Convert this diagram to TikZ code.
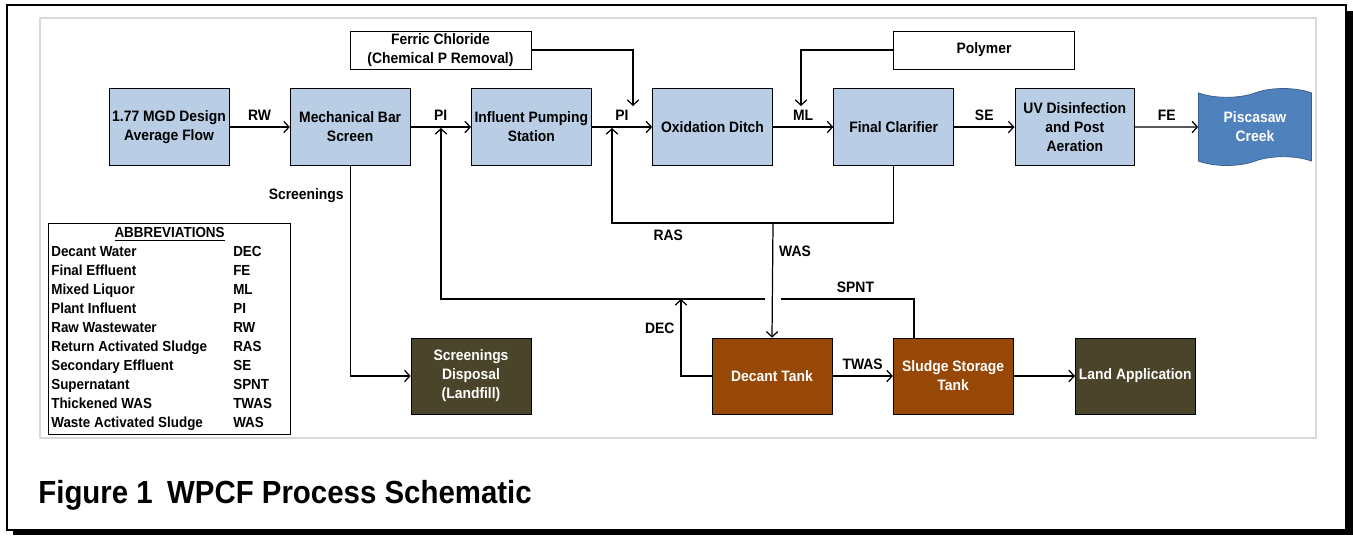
\documentclass[tikz,border=0pt]{standalone}
\usepackage{fontspec}
\setmainfont{Liberation Sans}[FakeStretch=0.92]
\usetikzlibrary{positioning,arrows.meta,shapes.symbols}
\definecolor{unitblue}{HTML}{B9CDE5}
\definecolor{creekblue}{HTML}{4F81BD}
\definecolor{creekedge}{HTML}{385D8A}
\definecolor{sludgebrown}{HTML}{974706}
\definecolor{dumpolive}{HTML}{4A452A}
\definecolor{framegray}{HTML}{D9D9D9}

\begin{document}
\begin{tikzpicture}[x=0.02cm,y=-0.02cm,
		font=\bfseries\fontsize{8.6}{10.8}\selectfont,
		>={Straight Barb[length=3pt,width=6.5pt]},
		unit/.style={draw,fill=unitblue,align=center,minimum width=2.4cm,minimum height=1.54cm,inner sep=1pt},
		chem/.style={draw,fill=white,align=center,minimum width=3.62cm,minimum height=0.76cm,inner sep=1pt},
		solids/.style={draw,fill=sludgebrown,text=white,align=center,minimum width=2.4cm,minimum height=1.52cm,inner sep=1pt},
		dump/.style={solids,fill=dumpolive},
		flow/.style={->,line width=0.7pt},
		pipe/.style={line width=0.7pt}
		]
		\useasboundingbox (0,0) rectangle (1353,535);
		% outer frame with shadow
		\fill (13,11) rectangle (1353,535);
		\draw[fill=white,line width=1.2pt] (7,5) rectangle (1346,530);
		\draw[framegray,line width=1.2pt] (40,18) rectangle (1316,438);
		
		% main process train
		\node[unit] (raw) at (169,127) {1.77 MGD Design\\Average Flow};
		\node[unit, right=1.21cm of raw] (bar) {Mechanical Bar\\Screen};
		\node[unit, right=1.21cm of bar] (pump) {Influent Pumping\\Station};
		\node[unit, right=1.21cm of pump] (ditch) {Oxidation Ditch};
		\node[unit, right=1.21cm of ditch] (clar) {Final Clarifier};
		\node[unit, right=1.21cm of clar] (uv) {UV Disinfection\\and Post\\Aeration};
		\node[tape, draw=creekedge, fill=creekblue, text=white, align=center, inner sep=1pt,
		minimum width=2.26cm, minimum height=1.54cm, right=1.26cm of uv] (creek) {Piscasaw\\Creek};
		
		\draw[flow] (raw) -- node[midway,above]{RW} (bar);
		\draw[flow] (bar) -- node[midway,above]{PI} (pump);
		\draw[flow] (pump) -- node[midway,above]{PI} (ditch);
		\draw[flow] (ditch) -- node[midway,above]{ML} (clar);
		\draw[flow] (clar) -- node[midway,above]{SE} (uv);
		\draw[flow] (uv) -- node[midway,above]{FE} (creek);
		
		% chemicals
		\node[chem] (ferric) at (440.5,50) {Ferric Chloride\\(Chemical P Removal)};
		\node[chem] (polymer) at (984,50) {Polymer};
		\coordinate (ferricin) at (633,106);
		\coordinate (polyin) at (801,106);
		\draw[flow] (ferric.east) -| (ferricin);
		\draw[flow] (polymer.west) -| (polyin);
		
		% solids train
		\node[dump] (landfill) at (471,376) {Screenings\\Disposal\\(Landfill)};
		\node[solids] (decant) at (772,376) {Decant Tank};
		\node[solids, right=1.21cm of decant] (storage) {Sludge Storage\\Tank};
		\node[dump, right=1.23cm of storage] (land) {Land Application};
		
		\draw[flow] (bar.south) |- node[pos=0.07,left]{Screenings} (landfill.west);
		\draw[flow] (decant) -- node[midway,above]{TWAS} (storage);
		\draw[flow] (storage) -- (land);
		
		% return and waste streams
		\coordinate (rasturn) at (612,223);
		\coordinate (rasin) at (612,128);
		\coordinate (wassplit) at (773,223);
		\draw[flow] (clar.south) |- node[pos=0.9,below]{RAS} (rasturn) -- (rasin);
		\draw[flow] (wassplit) -- node[pos=0.25,right]{WAS} (decant.north);
		
		\coordinate (decin) at (681,299);
		\draw[flow] (decant.west) -| node[pos=0.81,left]{DEC} (decin);
		
		\coordinate (spntout) at (914,338);
		\coordinate (hopR) at (781,299);
		\coordinate (hopL) at (765,299);
		\coordinate (piin) at (441,128);
		\draw[pipe] (spntout) |- node[pos=0.72,above]{SPNT} (hopR);
		\draw[flow] (hopL) -| (piin);
		
		% abbreviations
		\node[draw, anchor=north west, inner sep=0pt, minimum width=4.84cm, minimum height=4.22cm,
		font=\bfseries\fontsize{8.3}{9.5}\selectfont]
		(abbr) at (48,223) {\renewcommand{\arraystretch}{1.14}%
			\begin{tabular}{@{\hspace{1.7pt}}p{3.64cm}@{}p{1.15cm}@{}}
				\multicolumn{2}{c}{\underline{ABBREVIATIONS}}\\
				Decant Water & DEC\\
				Final Effluent & FE\\
				Mixed Liquor & ML\\
				Plant Influent & PI\\
				Raw Wastewater & RW\\
				Return Activated Sludge & RAS\\
				Secondary Effluent & SE\\
				Supernatant & SPNT\\
				Thickened WAS & TWAS\\
				Waste Activated Sludge & WAS
		\end{tabular}};
		
		\node[anchor=base west, inner sep=0pt, font=\bfseries\fontsize{18.2}{21}\selectfont] (caption) at (38,503)
		{Figure 1\hspace{0.45em}WPCF Process Schematic};
	\end{tikzpicture}
\end{document}
